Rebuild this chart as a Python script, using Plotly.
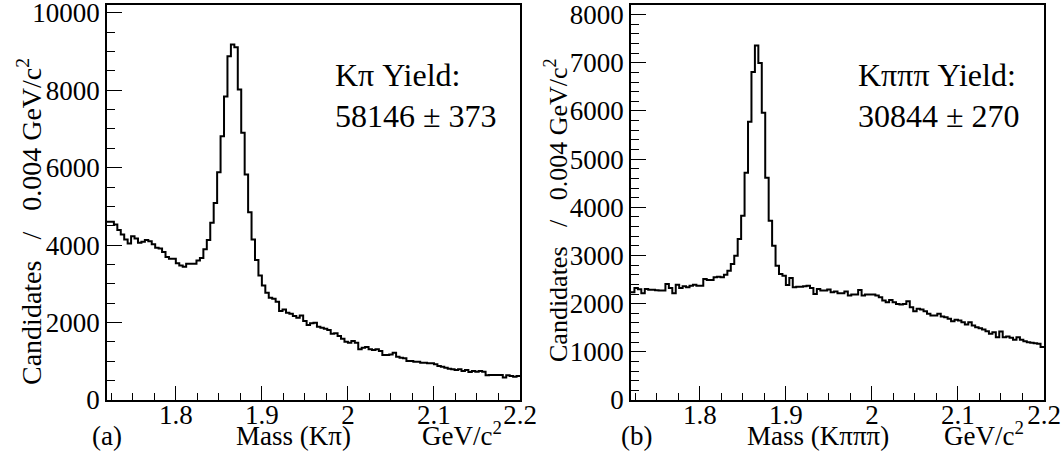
import plotly.graph_objects as go

# ---------------- data ----------------
bin_low = 1.72
bin_width = 0.004

kpi_counts = [
    4600, 4600, 4530, 4390, 4275, 4145, 4040, 4230, 4170, 4060,
    4085, 4130, 4100, 4020, 3930, 3915, 3820, 3690, 3650, 3650,
    3530, 3475, 3440, 3520, 3520, 3520, 3605, 3670, 3890, 4130,
    4575, 5090, 5880, 6810, 7840, 8875, 9180, 9110, 8015, 6900,
    5820, 4850, 4145, 3612, 3217, 2959, 2770, 2642, 2616, 2539,
    2296, 2340, 2255, 2230, 2167, 2126, 2185, 2038, 1935, 1979,
    1996, 1894, 1868, 1842, 1806, 1713, 1722, 1651, 1584, 1507,
    1481, 1524, 1481, 1308, 1351, 1368, 1308, 1291, 1308, 1264,
    1161, 1161, 1178, 1221, 1118, 1093, 1075, 1006, 1006, 989,
    989, 963, 963, 946, 946, 921, 877, 860, 836, 810,
    791, 774, 791, 748, 774, 722, 748, 731, 748, 731,
    637, 645, 645, 645, 645, 578, 637, 620, 603, 620,
]

k3pi_counts = [
    2236, 2327, 2300, 2215, 2306, 2291, 2291, 2280, 2271, 2271,
    2409, 2327, 2215, 2395, 2327, 2360, 2339, 2374, 2395, 2374,
    2374, 2513, 2492, 2492, 2546, 2560, 2546, 2600, 2685, 2823,
    2995, 3341, 3823, 4720, 5775, 6810, 7357, 6997, 5962, 4616,
    3720, 3202, 2788, 2616, 2581, 2389, 2533, 2339, 2353, 2353,
    2360, 2374, 2326, 2202, 2305, 2271, 2271, 2295, 2236, 2250,
    2215, 2215, 2250, 2167, 2188, 2188, 2285, 2167, 2188, 2188,
    2188, 2167, 2132, 2064, 2029, 2078, 2029, 1995, 1981, 1995,
    2050, 1925, 1843, 1892, 1877, 1843, 1788, 1753, 1753, 1788,
    1733, 1718, 1685, 1636, 1664, 1650, 1615, 1567, 1615, 1546,
    1511, 1490, 1463, 1428, 1374, 1408, 1304, 1422, 1304, 1318,
    1291, 1250, 1304, 1250, 1221, 1201, 1188, 1180, 1167, 1100,
]

x_ticks = [1.8, 1.9, 2.0, 2.1, 2.2]
x_tick_text = ["1.8", "1.9", "2", "2.1", "2.2"]
y1_ticks = [0, 2000, 4000, 6000, 8000, 10000]
y2_ticks = [0, 1000, 2000, 3000, 4000, 5000, 6000, 7000, 8000]

# ---------------- figure ----------------
W, H = 1062, 452
FONT = "Liberation Serif, Times New Roman, DejaVu Serif, serif"


def px(x):
    return x / W


def py(y):
    return 1 - y / H


def step_xy(counts):
    n = len(counts)
    edges = [bin_low + bin_width * i for i in range(n + 1)]
    return edges, list(counts) + [counts[-1]]


fig = go.Figure()
for counts, xa, ya in [(kpi_counts, "x", "y"), (k3pi_counts, "x2", "y2")]:
    ex, ey = step_xy(counts)
    fig.add_trace(go.Scatter(
        x=ex, y=ey, mode="lines", line=dict(shape="hv", color="black", width=2),
        xaxis=xa, yaxis=ya, hoverinfo="skip", showlegend=False))

tickfont = dict(family=FONT, size=27, color="black")

xcommon = dict(
    range=[1.72, 2.2], tickvals=x_ticks, ticktext=x_tick_text,
    ticks="inside", ticklen=14, tickwidth=1.2, tickcolor="black",
    minor=dict(dtick=0.025, tick0=1.8, ticks="inside", ticklen=7,
               tickwidth=1, tickcolor="black"),
    showline=True, linecolor="black", linewidth=1.5, mirror=True,
    showgrid=False, zeroline=False, tickfont=tickfont, automargin=False,
    ticklabeloverflow="allow", ticklabelstandoff=-10,
)
ycommon = dict(
    ticks="inside", ticklen=15, tickwidth=1.2, tickcolor="black",
    showline=True, linecolor="black", linewidth=1.5, mirror=True,
    showgrid=False, zeroline=False, tickfont=tickfont, automargin=False,
    ticklabeloverflow="allow",
)

fig.update_layout(
    width=W, height=H,
    margin=dict(l=0, r=0, t=0, b=0, autoexpand=False),
    paper_bgcolor="white", plot_bgcolor="white",
    font=dict(family=FONT, color="black"),
    xaxis=dict(domain=[px(107), px(520)], anchor="y", **xcommon),
    xaxis2=dict(domain=[px(631), px(1044)], anchor="y2", **xcommon),
    yaxis=dict(domain=[py(400), py(5)], anchor="x", range=[0, 10200],
               tickvals=y1_ticks, ticktext=[str(v) for v in y1_ticks],
               minor=dict(dtick=500, ticks="inside", ticklen=8, tickwidth=1,
                          tickcolor="black"),
               **ycommon),
    yaxis2=dict(domain=[py(400), py(5)], anchor="x2", range=[0, 8200],
                tickvals=y2_ticks, ticktext=[str(v) for v in y2_ticks],
                minor=dict(dtick=200, ticks="inside", ticklen=8, tickwidth=1,
                           tickcolor="black"),
                **ycommon),
)

label_font = dict(family=FONT, size=27, color="black")
yield_font = dict(family=FONT, size=32, color="black")
NB = "\u00a0"
ytitle = "Candidates" + NB * 3 + "/" + NB * 3 + "0.004 GeV/c<sup>2</sup>"

annotations = [
    # y-axis titles
    dict(x=px(29), y=py(222), text=ytitle, textangle=-90, yanchor="middle",
         font=dict(family=FONT, size=28, color="black")),
    dict(x=px(557), y=py(210), text=ytitle, textangle=-90, yanchor="middle",
         font=dict(family=FONT, size=26, color="black")),
    # x-axis labels (bottom row)
    dict(x=px(107), y=0, text="(a)", yanchor="bottom", font=label_font),
    dict(x=px(293), y=0, text="Mass (K\u03c0)", yanchor="bottom", font=label_font),
    dict(x=px(462), y=0, text="GeV/c<sup>2</sup>", yanchor="bottom", font=label_font),
    dict(x=px(636), y=0, text="(b)", yanchor="bottom", font=label_font),
    dict(x=px(818), y=0, text="Mass (K\u03c0\u03c0\u03c0)", yanchor="bottom", font=label_font),
    dict(x=px(984), y=0, text="GeV/c<sup>2</sup>", yanchor="bottom", font=label_font),
    # yields
    dict(x=px(334), y=py(75), text="K\u03c0 Yield:", xanchor="left", yanchor="middle", font=yield_font),
    dict(x=px(334), y=py(116), text="58146 \u00b1 373", xanchor="left", yanchor="middle", font=yield_font),
    dict(x=px(857), y=py(75), text="K\u03c0\u03c0\u03c0 Yield:", xanchor="left", yanchor="middle", font=yield_font),
    dict(x=px(857), y=py(116), text="30844 \u00b1 270", xanchor="left", yanchor="middle", font=yield_font),
]
for a in annotations:
    a.setdefault("xanchor", "center")
    a.update(xref="paper", yref="paper", showarrow=False, borderpad=0)
fig.update_layout(annotations=annotations)

fig.write_html(
    "out.html",
    config={"displayModeBar": False},
    post_script="document.body.style.margin='0px';document.body.style.overflow='hidden';",
)
